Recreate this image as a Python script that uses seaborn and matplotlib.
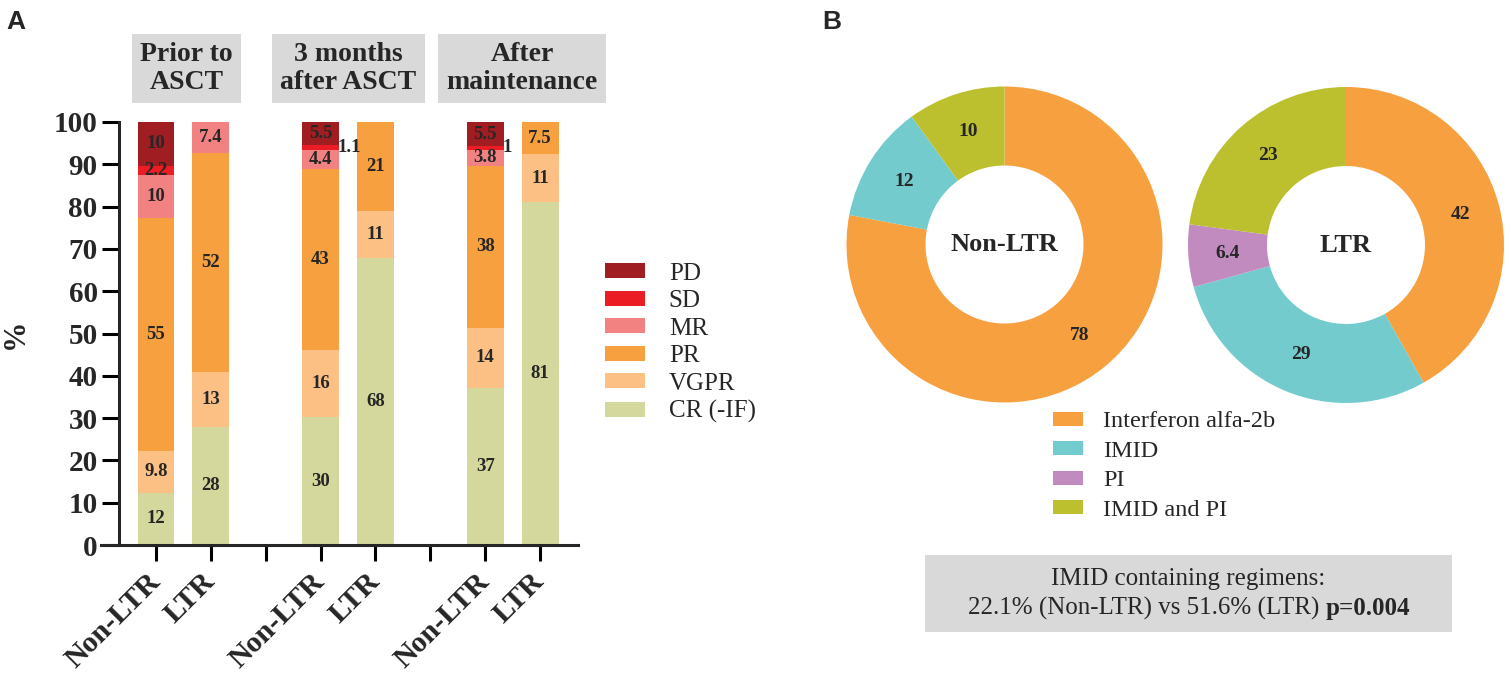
import numpy as np
import pandas as pd
import matplotlib
matplotlib.use("Agg")
import matplotlib.pyplot as plt
import seaborn as sns
from matplotlib.patches import Patch, Rectangle
from matplotlib.transforms import ScaledTranslation

# ---- panel A: response by time point (percent of patients)
bar_labels = ["Non-LTR", "LTR", "", "Non-LTR", "LTR", "", "Non-LTR", "LTR"]
bar_pos = [0, 1, 3, 4, 6, 7]
timepoints = ["Prior to\nASCT", "3 months\nafter ASCT", "After\nmaintenance"]
responses = ["CR (-IF)", "VGPR", "PR", "MR", "SD", "PD"]
resp_colors = ["#d4d89c", "#fcc084", "#f7a03f", "#f28282", "#ec1c24", "#a01e22"]
cr = [12.4, 27.9, 30.2, 67.9, 37.2, 81.1]
vgpr = [9.8, 13.0, 15.8, 11.0, 14.2, 11.3]
pr = [55.0, 51.7, 43.0, 21.1, 38.2, 7.5]
mr = [10.2, 7.4, 4.4, 0, 3.8, 0]
sd = [2.2, 0, 1.1, 0, 1.0, 0]
pdis = [10.4, 0, 5.5, 0, 5.5, 0]

# ---- panel B: maintenance regimens
donut_groups = ["Non-LTR", "LTR"]
regimens = ["Interferon alfa-2b", "IMID", "PI", "IMID and PI"]
reg_colors = ["#f7a040", "#74cbcd", "#c18bc0", "#bdc02e"]
non_ltr = [78, 12, 0, 10]
ltr = [42, 29, 6.4, 23]

W, H = 1511, 679
sns.set_theme(style="ticks")
plt.rcParams["font.family"] = ["Liberation Serif", "DejaVu Serif"]
plt.rcParams["axes.linewidth"] = 2.2

rows = []
series = [cr, vgpr, pr, mr, sd, pdis]
for i, p in enumerate(bar_pos):
    for name, vals in zip(responses, series):
        rows.append({"pos": p, "response": name, "pct": vals[i]})
df = pd.DataFrame(rows)

fig = plt.figure(figsize=(W / 100, H / 100), dpi=100)

ax = fig.add_axes([101 / W, 1 - 545 / H, 477 / W, 423 / H])
# seaborn stacks the first hue level on top
sns.histplot(data=df, x="pos", weights="pct", hue="response",
             hue_order=responses[::-1], palette=dict(zip(responses, resp_colors)),
             multiple="stack", discrete=True, shrink=0.67, alpha=1,
             edgecolor="none", linewidth=0, legend=False, ax=ax)
ax.set_xlim(-1.0, 7.69)
ax.set_ylim(0, 100)
ax.spines["left"].set_position(("data", -0.68))
ax.spines["top"].set_visible(False)
ax.spines["right"].set_visible(False)
ax.set_xticks(range(8))
ax.set_xticklabels(bar_labels, rotation=45, ha="right", va="center",
                   rotation_mode="anchor", fontsize=21.5, fontweight="bold")
for lbl in ax.get_xticklabels():
    lbl.set_transform(lbl.get_transform() +
                      ScaledTranslation(8 / 100, -7 / 100, fig.dpi_scale_trans))
ax.set_yticks(range(0, 101, 10))
ax.set_yticklabels([str(v) for v in range(0, 101, 10)], fontsize=21,
                   fontweight="bold")
ax.tick_params(axis="x", length=11.5, width=2.2, pad=12, color="black")
ax.tick_params(axis="y", length=12, width=2.2, pad=3, color="black")
ax.set_xlabel("")
ax.set_ylabel("%", fontsize=22, fontweight="bold")
ax.yaxis.set_label_coords(-0.15, 0.5)

# segment labels
for i, p in enumerate(bar_pos):
    base = 0
    for vals in series:
        v = vals[i]
        if v > 0:
            if v < 2:
                ax.text(p + 0.31, base + v / 2, f"{v:.2g}", ha="left",
                        va="center", fontsize=13.5, fontweight="bold")
            else:
                ax.text(p, base + v / 2, f"{v:.2g}", ha="center",
                        va="center", fontsize=13.5, fontweight="bold")
        base += v

# time point headers
for txt, xc in zip(timepoints, [186.5, 348.5, 522]):
    fig.text(xc / W, 1 - 68.5 / H, txt, ha="center", va="center",
             fontsize=20, fontweight="bold", linespacing=1.15,
             bbox=dict(boxstyle="square,pad=0.3", fc="#d9d9d9", ec="none"))

handles = [Patch(facecolor=c, edgecolor="none") for c in resp_colors[::-1]]
fig.legend(handles, responses[::-1], loc="center left",
           bbox_to_anchor=(605 / W, 1 - 343 / H), frameon=False,
           fontsize=18, handlelength=1.6, handleheight=0.55,
           handletextpad=0.95, labelspacing=0.22, borderpad=0,
           borderaxespad=0)

# ---- donuts
centers = [(1004.5, 244.5), (1346, 245)]
for grp, vals, (cx, cy) in zip(donut_groups, [non_ltr, ltr], centers):
    r = 158
    dax = fig.add_axes([(cx - r) / W, 1 - (cy + r) / H, 2 * r / W, 2 * r / H])
    wedges, _ = dax.pie(vals, colors=reg_colors, startangle=90,
                        counterclock=False,
                        wedgeprops=dict(width=0.5, linewidth=0))
    dax.set_xlim(-1, 1)
    dax.set_ylim(-1, 1)
    dax.set_aspect("equal")
    for w, v in zip(wedges, vals):
        if v <= 0:
            continue
        ang = np.deg2rad((w.theta1 + w.theta2) / 2)
        dax.text(0.75 * np.cos(ang), 0.75 * np.sin(ang), f"{v:g}",
                 ha="center", va="center", fontsize=14, fontweight="bold")
    dax.text(0, 0, grp, ha="center", va="center", fontsize=19,
             fontweight="bold")

handles_b = [Patch(facecolor=c, edgecolor="none") for c in reg_colors]
fig.legend(handles_b, regimens, loc="center left",
           bbox_to_anchor=(1053 / W, 1 - 466 / H), frameon=False,
           fontsize=17.5, handlelength=1.23, handleheight=0.5,
           handletextpad=0.82, labelspacing=0.35, borderpad=0,
           borderaxespad=0)

fig.add_artist(Rectangle((925 / W, 1 - 632 / H), 527 / W, 77 / H,
                         transform=fig.transFigure, fc="#d9d9d9", ec="none"))
fig.text(1188 / W, 1 - 579 / H, "IMID containing regimens:", ha="center",
         va="center", fontsize=18)
t_norm = fig.text(0, 1 - 608 / H, "22.1% (Non-LTR) vs 51.6% (LTR)",
                  ha="left", va="center", fontsize=18)
t_bold = fig.text(0, 1 - 608 / H, "p=0.004", ha="left", va="center",
                  fontsize=18, fontweight="bold")
fig.canvas.draw()
rend = fig.canvas.get_renderer()
w1 = t_norm.get_window_extent(rend).width
w2 = t_bold.get_window_extent(rend).width
x0 = 1189 - (w1 + 6 + w2) / 2
t_norm.set_x(x0 / W)
t_bold.set_x((x0 + w1 + 6) / W)

fig.text(6 / W, 1 - 22 / H, "A", fontsize=19, fontweight="bold",
         family="Liberation Sans", va="center")
fig.text(822 / W, 1 - 22 / H, "B", fontsize=19, fontweight="bold",
         family="Liberation Sans", va="center")

fig.savefig("out.png", dpi=100)
